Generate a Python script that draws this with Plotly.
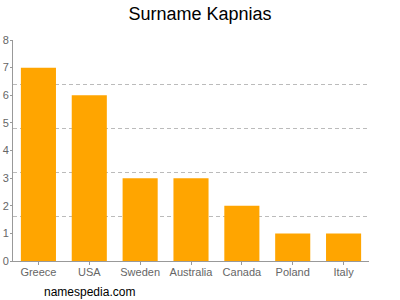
import plotly.graph_objects as go

countries = ["Greece", "USA", "Sweden", "Australia", "Canada", "Poland", "Italy"]
counts = [7, 6, 3, 3, 2, 1, 1]
y_ticks = [0, 1, 2, 3, 4, 5, 6, 7, 8]
grid_vals = [1.6, 3.2, 4.8, 6.4, 7.999]

fig = go.Figure()
fig.add_trace(go.Bar(x=countries, y=counts, marker=dict(color="#FFA500", line=dict(width=0)),
                     hoverinfo="x+y"))
fig.add_trace(go.Scatter(x=countries, y=[None]*len(countries), yaxis="y2", showlegend=False,
                         hoverinfo="skip"))

fig.update_layout(
    width=400, height=300,
    margin=dict(l=13, r=31, t=40, b=39, autoexpand=False),
    paper_bgcolor="white", plot_bgcolor="white",
    font=dict(family="Liberation Sans, Arial, sans-serif", color="#666"),
    title=dict(text="Surname Kapnias", x=0.5, xanchor="center", y=0.955, yanchor="middle",
               font=dict(size=18, color="#000")),
    showlegend=False,
    bargap=0.31,
    xaxis=dict(showline=True, linecolor="#999", linewidth=1, ticks="outside", ticklen=3,
               tickcolor="#999", tickfont=dict(size=11, color="#666"), showgrid=False,
               automargin=False, ticklabelstandoff=-2),
    yaxis=dict(range=[0, 8], tickvals=y_ticks, showline=True, linecolor="#999", linewidth=1,
               ticks="outside", ticklen=2, tickcolor="#999", showgrid=False, zeroline=False,
               tickfont=dict(size=11, color="#666"), automargin=False, ticklabelstandoff=-1),
    yaxis2=dict(range=[0, 8], overlaying="y", tickvals=grid_vals, showgrid=True,
                gridcolor="#bbb", griddash="4px,3px", showticklabels=False, zeroline=False,
                side="right", automargin=False),
)
fig.add_annotation(text="namespedia.com", xref="paper", yref="paper", x=0, y=-0.14,
                   xanchor="left", yanchor="middle", showarrow=False,
                   font=dict(size=12, color="#000"), xshift=29)
fig.write_html("out.html")
